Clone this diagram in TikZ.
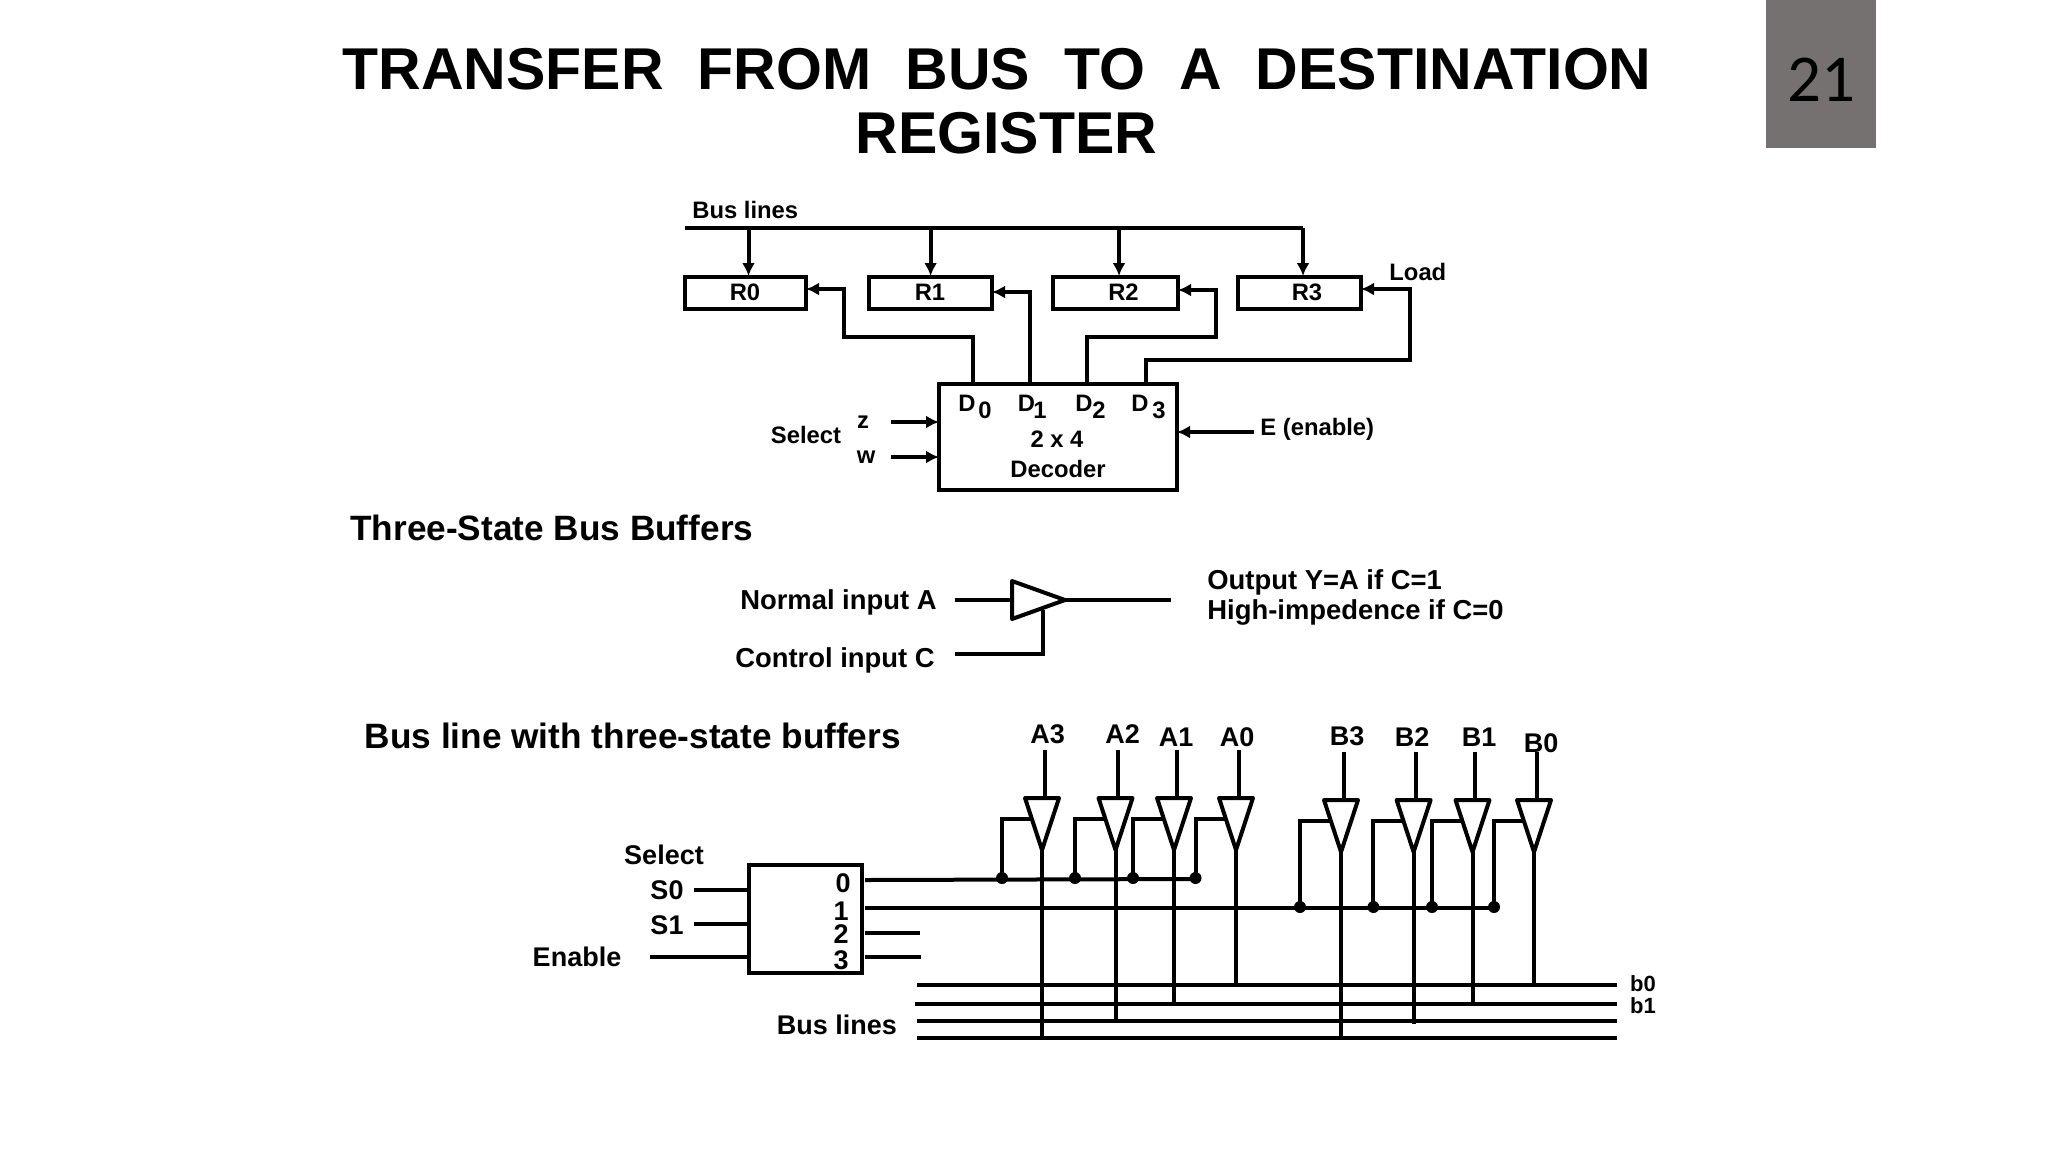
\documentclass[tikz,border=0pt]{standalone}
\usepackage{fontspec}
\setmainfont{Liberation Sans}
\newfontfamily\numfont{Carlito}
\usetikzlibrary{arrows.meta}

\definecolor{numgray}{HTML}{767171}

\tikzset{
  wire/.style={line width=2pt},
  arrowed/.style={wire,-{Latex[length=6.5pt,width=6.5pt]}},
  box/.style={draw,line width=2pt,anchor=north west,inner sep=0pt,outer sep=0pt},
  dot/.style={circle,fill=black,inner sep=0pt,minimum size=6pt},
  small/.style={font=\bfseries\fontsize{11.9}{11.9}\selectfont,inner sep=0pt},
  mid/.style={font=\bfseries\fontsize{13.5}{13.5}\selectfont,inner sep=0pt},
  midb/.style={font=\bfseries\fontsize{13.7}{13.7}\selectfont,inner sep=0pt},
  big/.style={font=\bfseries\fontsize{17.6}{17.6}\selectfont,inner sep=0pt,anchor=west},
  head/.style={font=\bfseries\fontsize{29.5}{29.5}\selectfont,inner sep=0pt},
}

\begin{document}
\begin{tikzpicture}[x=0.5pt,y=-0.5pt]
  \useasboundingbox (0,0) rectangle (2048,1152);

  % slide title and number
  \node[head] (title1) at (997,69.5)
    {\hbox to 654.5pt{TRANSFER\hfill FROM\hfill BUS\hfill TO\hfill A\hfill DESTINATION}};
  \node[head] (title2) at (1006.5,133.5) {REGISTER};
  \node[fill=numgray,anchor=north west,minimum width=55pt,minimum height=74pt,inner sep=0pt,outer sep=0pt] (numbox) at (1766,0) {};
  \node[font=\numfont\fontsize{33.5}{33.5}\selectfont,inner sep=0pt] (num) at (1821,80) {21};

  % registers on the bus
  \node[small,anchor=west] (buslabel) at (692,210) {Bus lines};
  \foreach \n/\x/\w/\tx in {R0/685/60.5/745,R1/869/61.5/930,R2/1053/62.5/1123.5,R3/1238/61.5/1307} {
    \node[box,minimum width=\w pt,minimum height=16pt] (\n) at (\x,276.5) {};
    \node[small] (\n text) at (\tx,292) {\n};
  }
  \coordinate (busL) at (685,228);
  \coordinate (busR) at (1303,228);
  \draw[wire] (busL) -- (busR);
  \foreach \n/\x in {R0/748.5,R1/930.6,R2/1119,R3/1303}
    \draw[arrowed] (\x,228) -- (\x,276);
  \node[small,anchor=west] (load) at (1389,272) {Load};

  % decoder
  \node[box,minimum width=119pt,minimum height=53pt] (dec) at (939,384) {};
  \node[small] (two) at (1057,439) {2 x 4};
  \node[small] (decname) at (1058,469) {Decoder};
  \foreach \n/\x/\xs in {0/967/985,1/1026.5/1040,2/1084/1099,3/1140/1159} {
    \node[small] (D\n) at (\x,403) {D};
    \node[small] (S\n) at (\xs,410) {\n};
  }
  \coordinate (d0) at (972.5,384);
  \coordinate (d1) at (1030,384);
  \coordinate (d2) at (1087,384);
  \coordinate (d3) at (1146,384);
  \draw[arrowed] (d0) -- (972.5,337) -- (844,337) -- (844,289) -- (R0.east |- 0,289);
  \draw[arrowed] (d1) -- (1030,292) -- (R1.east |- 0,292);
  \draw[arrowed] (d2) -- (1087,337) -- (1216,337) -- (1216,290) -- (R2.east |- 0,290);
  \draw[arrowed] (d3) -- (1146,360) -- (1410,360) -- (1410,289) -- (R3.east |- 0,289);

  \node[small] (sel) at (806,435) {Select};
  \node[small] (z) at (863,422) {z};
  \node[small] (w) at (866,457) {w};
  \coordinate (zin) at (891,422);
  \coordinate (win) at (891,457);
  \draw[arrowed] (zin) -- (zin -| dec.west);
  \draw[arrowed] (win) -- (win -| dec.west);
  \coordinate (ein) at (1254,432);
  \draw[arrowed] (ein) -- (ein -| dec.east);
  \node[small,anchor=west] (elabel) at (1260,429) {E (enable)};

  % three state buffer
  \node[big] (head1) at (350,528) {Three-State Bus Buffers};
  \node[midb,anchor=east] (normal) at (937,602) {Normal input A};
  \node[midb,anchor=east] (control) at (935,660) {Control input C};
  \coordinate (a) at (955,600);
  \coordinate (c) at (955,654);
  \coordinate (tip) at (1065,600);
  \coordinate (ctop) at (1043,610);
  \coordinate (yout) at (1171,600);
  \draw[wire] (a) -- (1012,600);
  \draw[wire,line join=round] (1012,581) -- (tip) -- (1012,619) -- cycle;
  \draw[wire] (tip) -- (yout);
  \draw[wire] (c) -- (ctop |- c) -- (ctop);
  \node[midb,anchor=west] (out1) at (1207,582) {Output Y=A if C=1};
  \node[midb,anchor=west] (out2) at (1207,612) {High-impedence if C=0};

  % bus line with buffers
  \node[big] (head2) at (364.5,735.5) {Bus line with three-state buffers};
  \node[box,minimum width=56.5pt,minimum height=54pt] (sel2) at (748.5,865) {};
  \node[mid] (selname) at (664,855) {Select};
  \node[mid] (s0) at (667,890) {S0};
  \node[mid] (s1) at (667,925) {S1};
  \node[mid] (en) at (577,957) {Enable};
  \coordinate (s0in) at (694,890);
  \coordinate (s1in) at (694,924);
  \coordinate (enin) at (650,957);
  \draw[wire] (s0in) -- (s0in -| sel2.west);
  \draw[wire] (s1in) -- (s1in -| sel2.west);
  \draw[wire] (enin) -- (enin -| sel2.west);
  \foreach \n/\x/\y in {0/843/883,1/841/911,2/841/934,3/841/960}
    \node[mid] (out\n) at (\x,\y) {\n};
  \coordinate (en0) at (865,880);
  \coordinate (en1) at (865,908);
  \coordinate (en2) at (865,933);
  \coordinate (en3) at (865,957);
  \draw[wire] (en0) -- (1195.5,879);
  \draw[wire] (en1) -- (1494,908);
  \draw[wire] (en2) -- (920,933);
  \draw[wire] (en3) -- (921,957);

  \foreach \y/\x in {984.5/917,1004/915,1021/917,1038/917}
    \draw[wire] (\x,\y) -- (1616.5,\y);
  \node[mid] (busname) at (837,1025) {Bus lines};
  \node[font=\bfseries\fontsize{11}{11}\selectfont,inner sep=0pt] (b0) at (1643,984) {b0};
  \node[font=\bfseries\fontsize{11}{11}\selectfont,inner sep=0pt] (b1) at (1643,1006) {b1};

  \foreach \n/\x/\yt/\dx/\dy/\yb/\lx/\ly in {
      A3/1042/798/1002/878/1038/1047.6/734,
      A2/1115.5/798/1075/878/1021/1122.7/734,
      A1/1174/798/1133/878/1004/1176/737,
      A0/1236/798/1195.5/878/984/1237/737,
      B3/1341/800/1300/907/1038/1347/736,
      B2/1413.6/800/1373.4/907/1024/1412/737,
      B1/1472.5/800/1432/907/1004/1479/737,
      B0/1534/800/1494/907/984/1541/743} {
    \node[mid] (\n) at (\lx,\ly) {\n};
    \coordinate (\n tip) at (\x,\yt+52);
    \coordinate (\n bus) at (\x,\yb);
    \coordinate (\n dot) at (\dx,\dy);
    \coordinate (\n in) at (\x+2.5,\yt-48);
    \coordinate (\n edge) at (\x-11,\yt+21);
    \draw[wire,line join=round] (\x-17,\yt) -- (\x+17,\yt) -- (\n tip) -- cycle;
    \draw[wire] (\n in) -- (\x+2.5,\yt);
    \draw[wire] (\n tip) -- (\n bus);
    \draw[wire] (\n dot) -- (\n dot |- \n edge) -- (\n edge);
    \node[dot] (\n jn) at (\n dot) {};
  }
\end{tikzpicture}
\end{document}
